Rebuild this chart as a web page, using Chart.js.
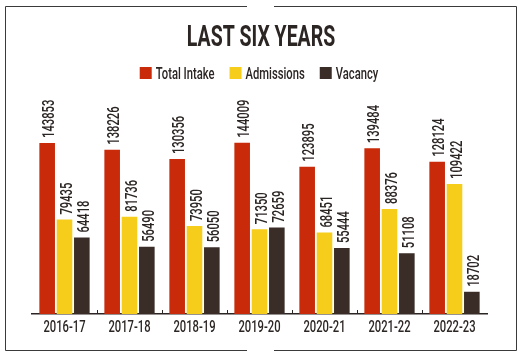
<!DOCTYPE html>
<html>
<head>
<meta charset="utf-8">
<script src="https://cdn.jsdelivr.net/npm/chart.js@4/dist/chart.umd.min.js"></script>
<style>
html,body{margin:0;padding:0;background:#fff;}
#wrap{position:relative;width:526px;height:358px;}
</style>
</head>
<body>
<div id="wrap"><canvas id="c" width="526" height="358"></canvas></div>
<script>
const categories = ["2016-17","2017-18","2018-19","2019-20","2020-21","2021-22","2022-23"];
const totalIntake = [143853,138226,130356,144009,123895,139484,128124];
const admissions = [79435,81736,73950,71350,68451,88376,109422];
const vacancy = [64418,56490,56050,72659,55444,51108,18702];
const seriesNames = ["Total Intake","Admissions","Vacancy"];
const seriesColors = ["#c92a0a","#f6cd1b","#3a2d28"];
const titleText = "LAST SIX YEARS";

const FONT = "Roboto, 'Liberation Sans', sans-serif";
const INK = "#2b2523";
const SX = 0.66; // horizontal condensing of all text

function condensedText(ctx, text, x, y, size, weight, align) {
  ctx.save();
  ctx.font = weight + " " + size + "px " + FONT;
  ctx.textBaseline = "alphabetic";
  ctx.translate(x, y);
  ctx.scale(SX, 1);
  ctx.textAlign = align;
  ctx.fillText(text, 0, 0);
  ctx.restore();
}
function textW(ctx, text, size, weight) {
  ctx.save();
  ctx.font = weight + " " + size + "px " + FONT;
  const w = ctx.measureText(text).width * SX;
  ctx.restore();
  return w;
}

const framePlugin = {
  id: 'frame',
  beforeDraw(chart) {
    const ctx = chart.ctx;
    ctx.save();
    ctx.fillStyle = '#fff';
    ctx.fillRect(0, 0, chart.width, chart.height);
    ctx.strokeStyle = '#3a3a3a';
    ctx.lineWidth = 1;
    const l = 5.5, r = 516.5, t = 6.5, b = 350.5, g1 = 247, g2 = 274;
    ctx.beginPath();
    ctx.moveTo(g1, t); ctx.lineTo(l, t); ctx.lineTo(l, b); ctx.lineTo(g1, b);
    ctx.moveTo(g2, t); ctx.lineTo(r, t); ctx.lineTo(r, b); ctx.lineTo(g2, b);
    ctx.stroke();
    ctx.restore();
  }
};

const headerPlugin = {
  id: 'header',
  afterDraw(chart) {
    const ctx = chart.ctx;
    ctx.save();
    ctx.fillStyle = INK;
    // title
    condensedText(ctx, titleText, 261, 46, 29.5, 'bold', 'center');
    // legend
    const size = 17, weight = '500', box = 12, gapBT = 4, gapItem = 15;
    let total = 0;
    const widths = seriesNames.map(n => textW(ctx, n, size, weight));
    widths.forEach((w, i) => { total += box + gapBT + w + (i < widths.length - 1 ? gapItem : 0); });
    let x = 259 - total / 2;
    const boxTop = 67, base = 79;
    seriesNames.forEach((n, i) => {
      ctx.fillStyle = seriesColors[i];
      ctx.fillRect(x, boxTop, box, box);
      ctx.fillStyle = INK;
      condensedText(ctx, n, x + box + gapBT, base, size, weight, 'left');
      x += box + gapBT + widths[i] + gapItem;
    });
    ctx.restore();
  }
};

const valueLabels = {
  id: 'valueLabels',
  afterDatasetsDraw(chart) {
    const ctx = chart.ctx;
    const size = 17;
    const capH = size * 0.711;
    ctx.save();
    ctx.fillStyle = INK;
    ctx.font = "500 " + size + "px " + FONT;
    ctx.textAlign = 'left';
    ctx.textBaseline = 'alphabetic';
    chart.data.datasets.forEach((ds, di) => {
      const meta = chart.getDatasetMeta(di);
      meta.data.forEach((bar, i) => {
        ctx.save();
        ctx.translate(bar.x + 1, bar.y - 5);
        ctx.rotate(-Math.PI / 2);
        ctx.scale(SX, 1);
        ctx.fillText(String(ds.data[i]), 0, capH / 2);
        ctx.restore();
      });
    });
    // category labels and small upward ticks at category boundaries
    const xs = chart.scales.x;
    const yb = chart.chartArea.bottom;
    categories.forEach((c, i) => {
      condensedText(ctx, c, xs.getPixelForValue(i), yb + 18, 17, '500', 'center');
    });
    ctx.strokeStyle = INK;
    ctx.lineWidth = 1;
    ctx.beginPath();
    for (let i = 0; i < categories.length - 1; i++) {
      const px = Math.round((xs.getPixelForValue(i) + xs.getPixelForValue(i + 1)) / 2) + 0.5;
      ctx.moveTo(px, yb);
      ctx.lineTo(px, yb - 4);
    }
    ctx.stroke();
    ctx.restore();
  }
};

new Chart(document.getElementById('c'), {
  type: 'bar',
  data: {
    labels: categories,
    datasets: [
      { label: seriesNames[0], data: totalIntake, backgroundColor: seriesColors[0] },
      { label: seriesNames[1], data: admissions, backgroundColor: seriesColors[1] },
      { label: seriesNames[2], data: vacancy, backgroundColor: seriesColors[2] }
    ]
  },
  options: {
    responsive: false,
    animation: false,
    devicePixelRatio: 1,
    layout: { padding: { top: 100, left: 32, right: 39, bottom: 44 } },
    datasets: { bar: { categoryPercentage: 0.8, barPercentage: 0.9 } },
    scales: {
      x: {
        grid: { display: false, drawTicks: false },
        border: { display: true, color: INK, width: 1.5 },
        ticks: { display: false }
      },
      y: {
        display: false,
        min: 0,
        max: 180000
      }
    },
    plugins: {
      title: { display: false, text: titleText },
      legend: { display: false },
      tooltip: { enabled: false }
    }
  },
  plugins: [framePlugin, valueLabels, headerPlugin]
});
</script>
</body>
</html>
